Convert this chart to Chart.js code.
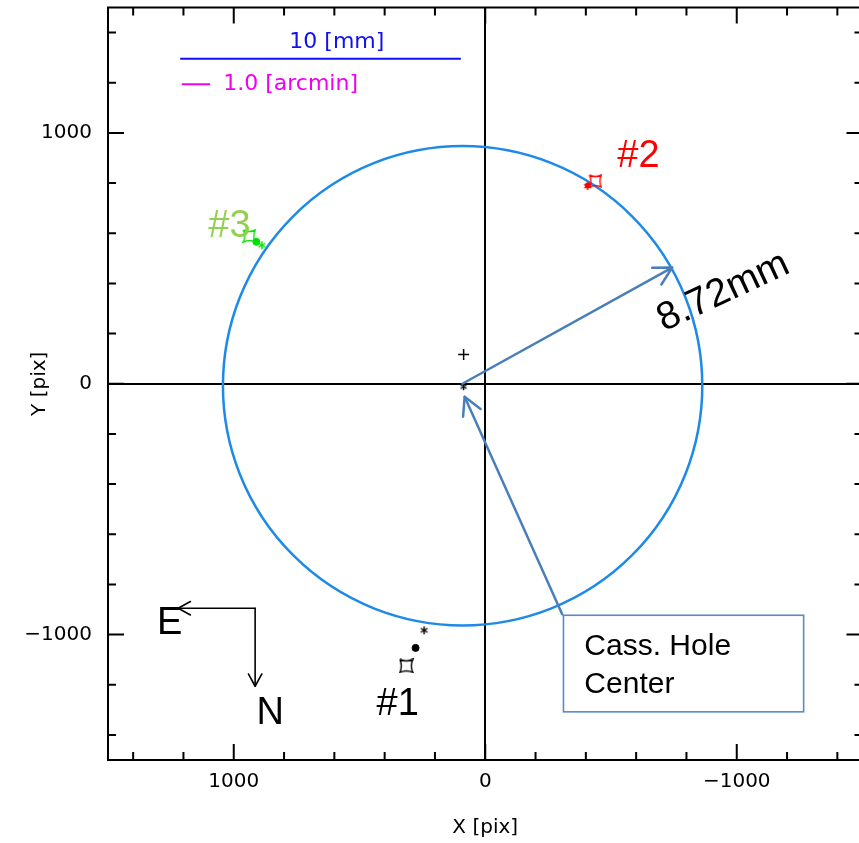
<!DOCTYPE html>
<html><head><meta charset="utf-8">
<script src="https://cdn.jsdelivr.net/npm/chart.js@4.4.1/dist/chart.umd.min.js"></script>
<style>html,body{margin:0;padding:0;overflow:hidden;background:#fff;width:859px;height:843px}#c{display:block}</style>
</head><body>
<canvas id="c" width="870" height="843" style="width:870px;height:843px"></canvas>
<script>
// ---------- data (pixel coordinates on the detector, x axis reversed) ----------
const targets = ['#1', '#2', '#3'];
const starX = [243, -407, 888];
const starY = [-983, 788, 552];
const dotX  = [277, -407, 910];
const dotY  = [-1053, 790, 566];
const boxX  = [314, -438, 938];
const boxY  = [-1125, 808, 589];
const labelX = [348, -609, 1017];
const labelY = [-1277, 907, 625];

const holeX = [86];   // Cass. hole centre marker
const holeY = [-12];
const plusX = [86];
const plusY = [117];

const circleCenter = [90, -8];
const circleRadius = 953;      // = 8.72 mm

const xTicks = [-1000, 0, 1000];
const yTicks = [-1000, 0, 1000];
const axisMin = -1500, axisMax = 1500;

// annotation anchors (data units)
const mmBar = [1213, 97, 1296];       // x1, x2, y
const mmText = [590, 1363];
const amBar = [1207, 1094, 1194];
const amText = [1042, 1194];
const radArrow = [91, 0, -743, 463];
const boxArrow = [-306, -919, 82, -52];
const boxRect = [-311, -923, -1266, -1308];
const boxLines = ['Cass. Hole', 'Center'];
const boxTextX = -394, boxTextY = [-1082, -1233];
const compass = [915, -895, 1221, -1206];   // corner x, corner y, E tip x, N tip y
const eText = [1255, -955], nText = [855, -1313];
const radText = [-947, 366];

// ---------- styles ----------
const targetColors = ['#000000', '#FF0000', '#00E000'];
const labelColors = ['#000000', '#FF0000', '#92D050'];
const ARROW = '#4A7EBB';
const SANS = '"Liberation Sans", Arial, sans-serif';

function astroid(color, s) {
  const c = document.createElement('canvas'); c.width = s; c.height = s;
  const g = c.getContext('2d');
  g.strokeStyle = color; g.lineWidth = 1.4;
  const a = 1, b = s - 1, m = s / 2, k = 3;
  g.beginPath();
  g.moveTo(a, a);
  g.quadraticCurveTo(m, a + k, b, a);
  g.quadraticCurveTo(b - k, m, b, b);
  g.quadraticCurveTo(m, b - k, a, b);
  g.quadraticCurveTo(a + k, m, a, a);
  g.stroke();
  return c;
}
function asterisk(color, s) {
  const c = document.createElement('canvas'); c.width = s; c.height = s;
  const g = c.getContext('2d');
  g.strokeStyle = color; g.lineWidth = 1.4;
  const m = s / 2, r = s / 2 - 1;
  g.beginPath();
  for (let i = 0; i < 3; i++) {
    const a = Math.PI / 2 + i * Math.PI / 3;
    g.moveTo(m + r * Math.cos(a), m + r * Math.sin(a));
    g.lineTo(m - r * Math.cos(a), m - r * Math.sin(a));
  }
  g.stroke();
  return c;
}

const datasets = [];
targets.forEach((t, i) => {
  const col = targetColors[i];
  datasets.push({ label: t + ' star', data: [{ x: starX[i], y: starY[i] }], pointStyle: asterisk(col, 10) });
  datasets.push({ label: t + ' dot', data: [{ x: dotX[i], y: dotY[i] }], pointStyle: 'circle', pointRadius: i === 1 ? 2.5 : 3.5, backgroundColor: col, borderColor: col });
  datasets.push({ label: t + ' box', data: [{ x: boxX[i], y: boxY[i] }], pointStyle: astroid(col, i === 0 ? 15 : 14) });
});
datasets.push({ label: 'hole', data: holeX.map((v, i) => ({ x: v, y: holeY[i] })), pointStyle: asterisk('#000', 9) });
datasets.push({ label: 'plus', data: plusX.map((v, i) => ({ x: v, y: plusY[i] })), pointStyle: 'cross', pointRadius: 5.5, borderWidth: 1.5, borderColor: '#000' });

function arrow(ctx, x1, y1, x2, y2, head, color, w) {
  ctx.save();
  ctx.strokeStyle = color; ctx.lineWidth = w; ctx.lineCap = 'round'; ctx.lineJoin = 'round';
  ctx.beginPath(); ctx.moveTo(x1, y1); ctx.lineTo(x2, y2); ctx.stroke();
  const a = Math.atan2(y2 - y1, x2 - x1), sp = 0.5;
  ctx.beginPath();
  ctx.moveTo(x2 - head * Math.cos(a - sp), y2 - head * Math.sin(a - sp));
  ctx.lineTo(x2, y2);
  ctx.lineTo(x2 - head * Math.cos(a + sp), y2 - head * Math.sin(a + sp));
  ctx.stroke();
  ctx.restore();
}

const overlay = {
  id: 'overlay',
  beforeDatasetsDraw(chart) {
    const { ctx, scales: { x, y } } = chart;
    const cx = x.getPixelForValue(circleCenter[0]), cy = y.getPixelForValue(circleCenter[1]);
    const r = Math.abs(x.getPixelForValue(circleCenter[0] + circleRadius) - cx);
    ctx.save();
    ctx.beginPath(); ctx.arc(cx, cy, r, 0, Math.PI * 2);
    ctx.strokeStyle = '#1E8AE8'; ctx.lineWidth = 2.5; ctx.stroke();
    ctx.restore();
  },
  afterDatasetsDraw(chart) {
    const { ctx, chartArea: a, scales: { x, y } } = chart;
    const X = v => x.getPixelForValue(v), Y = v => y.getPixelForValue(v);
    ctx.save();
    // frame and inward ticks
    ctx.strokeStyle = '#000'; ctx.lineWidth = 2;
    ctx.strokeRect(a.left, a.top, a.right - a.left, a.bottom - a.top);
    ctx.beginPath();
    for (let v = -1400; v <= 1400; v += 200) {
      const len = v % 1000 === 0 ? 16 : 8;
      const px = X(v), py = Y(v);
      ctx.moveTo(px, a.bottom); ctx.lineTo(px, a.bottom - len);
      ctx.moveTo(px, a.top); ctx.lineTo(px, a.top + len);
      ctx.moveTo(a.left, py); ctx.lineTo(a.left + len, py);
      ctx.moveTo(a.right, py); ctx.lineTo(a.right - len, py);
    }
    ctx.stroke();

    // scale bars
    ctx.lineWidth = 2;
    ctx.strokeStyle = '#1010F0';
    ctx.beginPath(); ctx.moveTo(X(mmBar[0]), Y(mmBar[2])); ctx.lineTo(X(mmBar[1]), Y(mmBar[2])); ctx.stroke();
    ctx.strokeStyle = '#F000F0';
    ctx.beginPath(); ctx.moveTo(X(amBar[0]), Y(amBar[2])); ctx.lineTo(X(amBar[1]), Y(amBar[2])); ctx.stroke();
    ctx.font = '22px "DejaVu Sans"'; ctx.textBaseline = 'middle';
    ctx.fillStyle = '#1010F0'; ctx.textAlign = 'center';
    ctx.fillText('10 [mm]', X(mmText[0]), Y(mmText[1]));
    ctx.fillStyle = '#F000F0'; ctx.textAlign = 'left';
    ctx.fillText('1.0 [arcmin]', X(amText[0]), Y(amText[1]));

    // target labels
    ctx.font = '38px ' + SANS; ctx.textAlign = 'center'; ctx.textBaseline = 'middle';
    targets.forEach((t, i) => { ctx.fillStyle = labelColors[i]; ctx.fillText(t, X(labelX[i]), Y(labelY[i])); });

    // compass
    arrow(ctx, X(compass[0]), Y(compass[1]), X(compass[2]), Y(compass[1]), 14, '#000', 1.6);
    arrow(ctx, X(compass[0]), Y(compass[1]), X(compass[0]), Y(compass[3]), 14, '#000', 1.6);
    ctx.fillStyle = '#000';
    ctx.fillText('E', X(eText[0]), Y(eText[1]));
    ctx.fillText('N', X(nText[0]), Y(nText[1]));

    // radius arrow + text
    arrow(ctx, X(radArrow[0]), Y(radArrow[1]), X(radArrow[2]), Y(radArrow[3]), 20, ARROW, 2.5);
    ctx.save();
    ctx.translate(X(radText[0]), Y(radText[1]));
    ctx.rotate(-25 * Math.PI / 180);
    ctx.font = '39px ' + SANS; ctx.fillStyle = '#000';
    ctx.fillText('8.72mm', 0, 0);
    ctx.restore();

    // callout box
    arrow(ctx, X(boxArrow[0]), Y(boxArrow[1]), X(boxArrow[2]), Y(boxArrow[3]), 20, ARROW, 2.5);
    ctx.fillStyle = '#fff';
    const bx = X(boxRect[0]), by = Y(boxRect[1]), bw = X(boxRect[2]) - bx, bh = Y(boxRect[3]) - by;
    ctx.fillRect(bx, by, bw, bh);
    ctx.strokeStyle = '#5A8AC6'; ctx.lineWidth = 1.6;
    ctx.strokeRect(bx, by, bw, bh);
    ctx.fillStyle = '#000'; ctx.font = '30px ' + SANS; ctx.textAlign = 'left'; ctx.textBaseline = 'alphabetic';
    boxLines.forEach((s, i) => ctx.fillText(s, X(boxTextX), Y(boxTextY[i])));
    ctx.restore();
  }
};

const fmt = v => v < 0 ? '\u2212' + Math.abs(v) : String(v);
const zeroGrid = c => (c.tick && c.tick.value === 0) ? '#000' : 'rgba(0,0,0,0)';
const tickFont = { family: '"DejaVu Sans"', size: 20 };

new Chart(document.getElementById('c'), {
  type: 'scatter',
  data: { datasets: datasets.map(d => Object.assign({ pointRadius: 6, pointHoverRadius: 6, borderColor: '#000', backgroundColor: '#000' }, d)) },
  options: {
    responsive: false, animation: false, devicePixelRatio: 1,
    layout: { padding: { top: 6, right: 3, left: 0, bottom: 0 } },
    plugins: { legend: { display: false }, tooltip: { enabled: false } },
    scales: {
      x: {
        type: 'linear', reverse: true, min: axisMin, max: axisMax,
        afterBuildTicks: s => { s.ticks = xTicks.map(v => ({ value: v })); },
        afterFit: s => { s.height = 83; s.paddingLeft = 0; s.paddingRight = 0; s.paddingTop = 0; s.paddingBottom = 0; },
        ticks: { callback: fmt, font: tickFont, color: '#000', padding: 10, maxRotation: 0, autoSkip: false },
        grid: { color: zeroGrid, lineWidth: 2, drawTicks: false },
        border: { display: false },
        title: { display: true, text: 'X [pix]', font: { family: '"DejaVu Sans"', size: 20, lineHeight: 1 }, color: '#000', padding: { top: 0, bottom: 5 } }
      },
      y: {
        type: 'linear', min: axisMin, max: axisMax,
        afterBuildTicks: s => { s.ticks = yTicks.map(v => ({ value: v })); },
        afterFit: s => { s.width = 108; s.paddingLeft = 0; s.paddingRight = 0; s.paddingTop = 0; s.paddingBottom = 0; },
        ticks: { callback: fmt, font: tickFont, color: '#000', padding: 16, autoSkip: false },
        grid: { color: zeroGrid, lineWidth: 2, drawTicks: false },
        border: { display: false },
        title: { display: true, text: 'Y [pix]', font: { family: '"DejaVu Sans"', size: 20, lineHeight: 1 }, color: '#000', padding: { top: 30, bottom: 0 } }
      }
    }
  },
  plugins: [overlay]
});
</script>
</body></html>
